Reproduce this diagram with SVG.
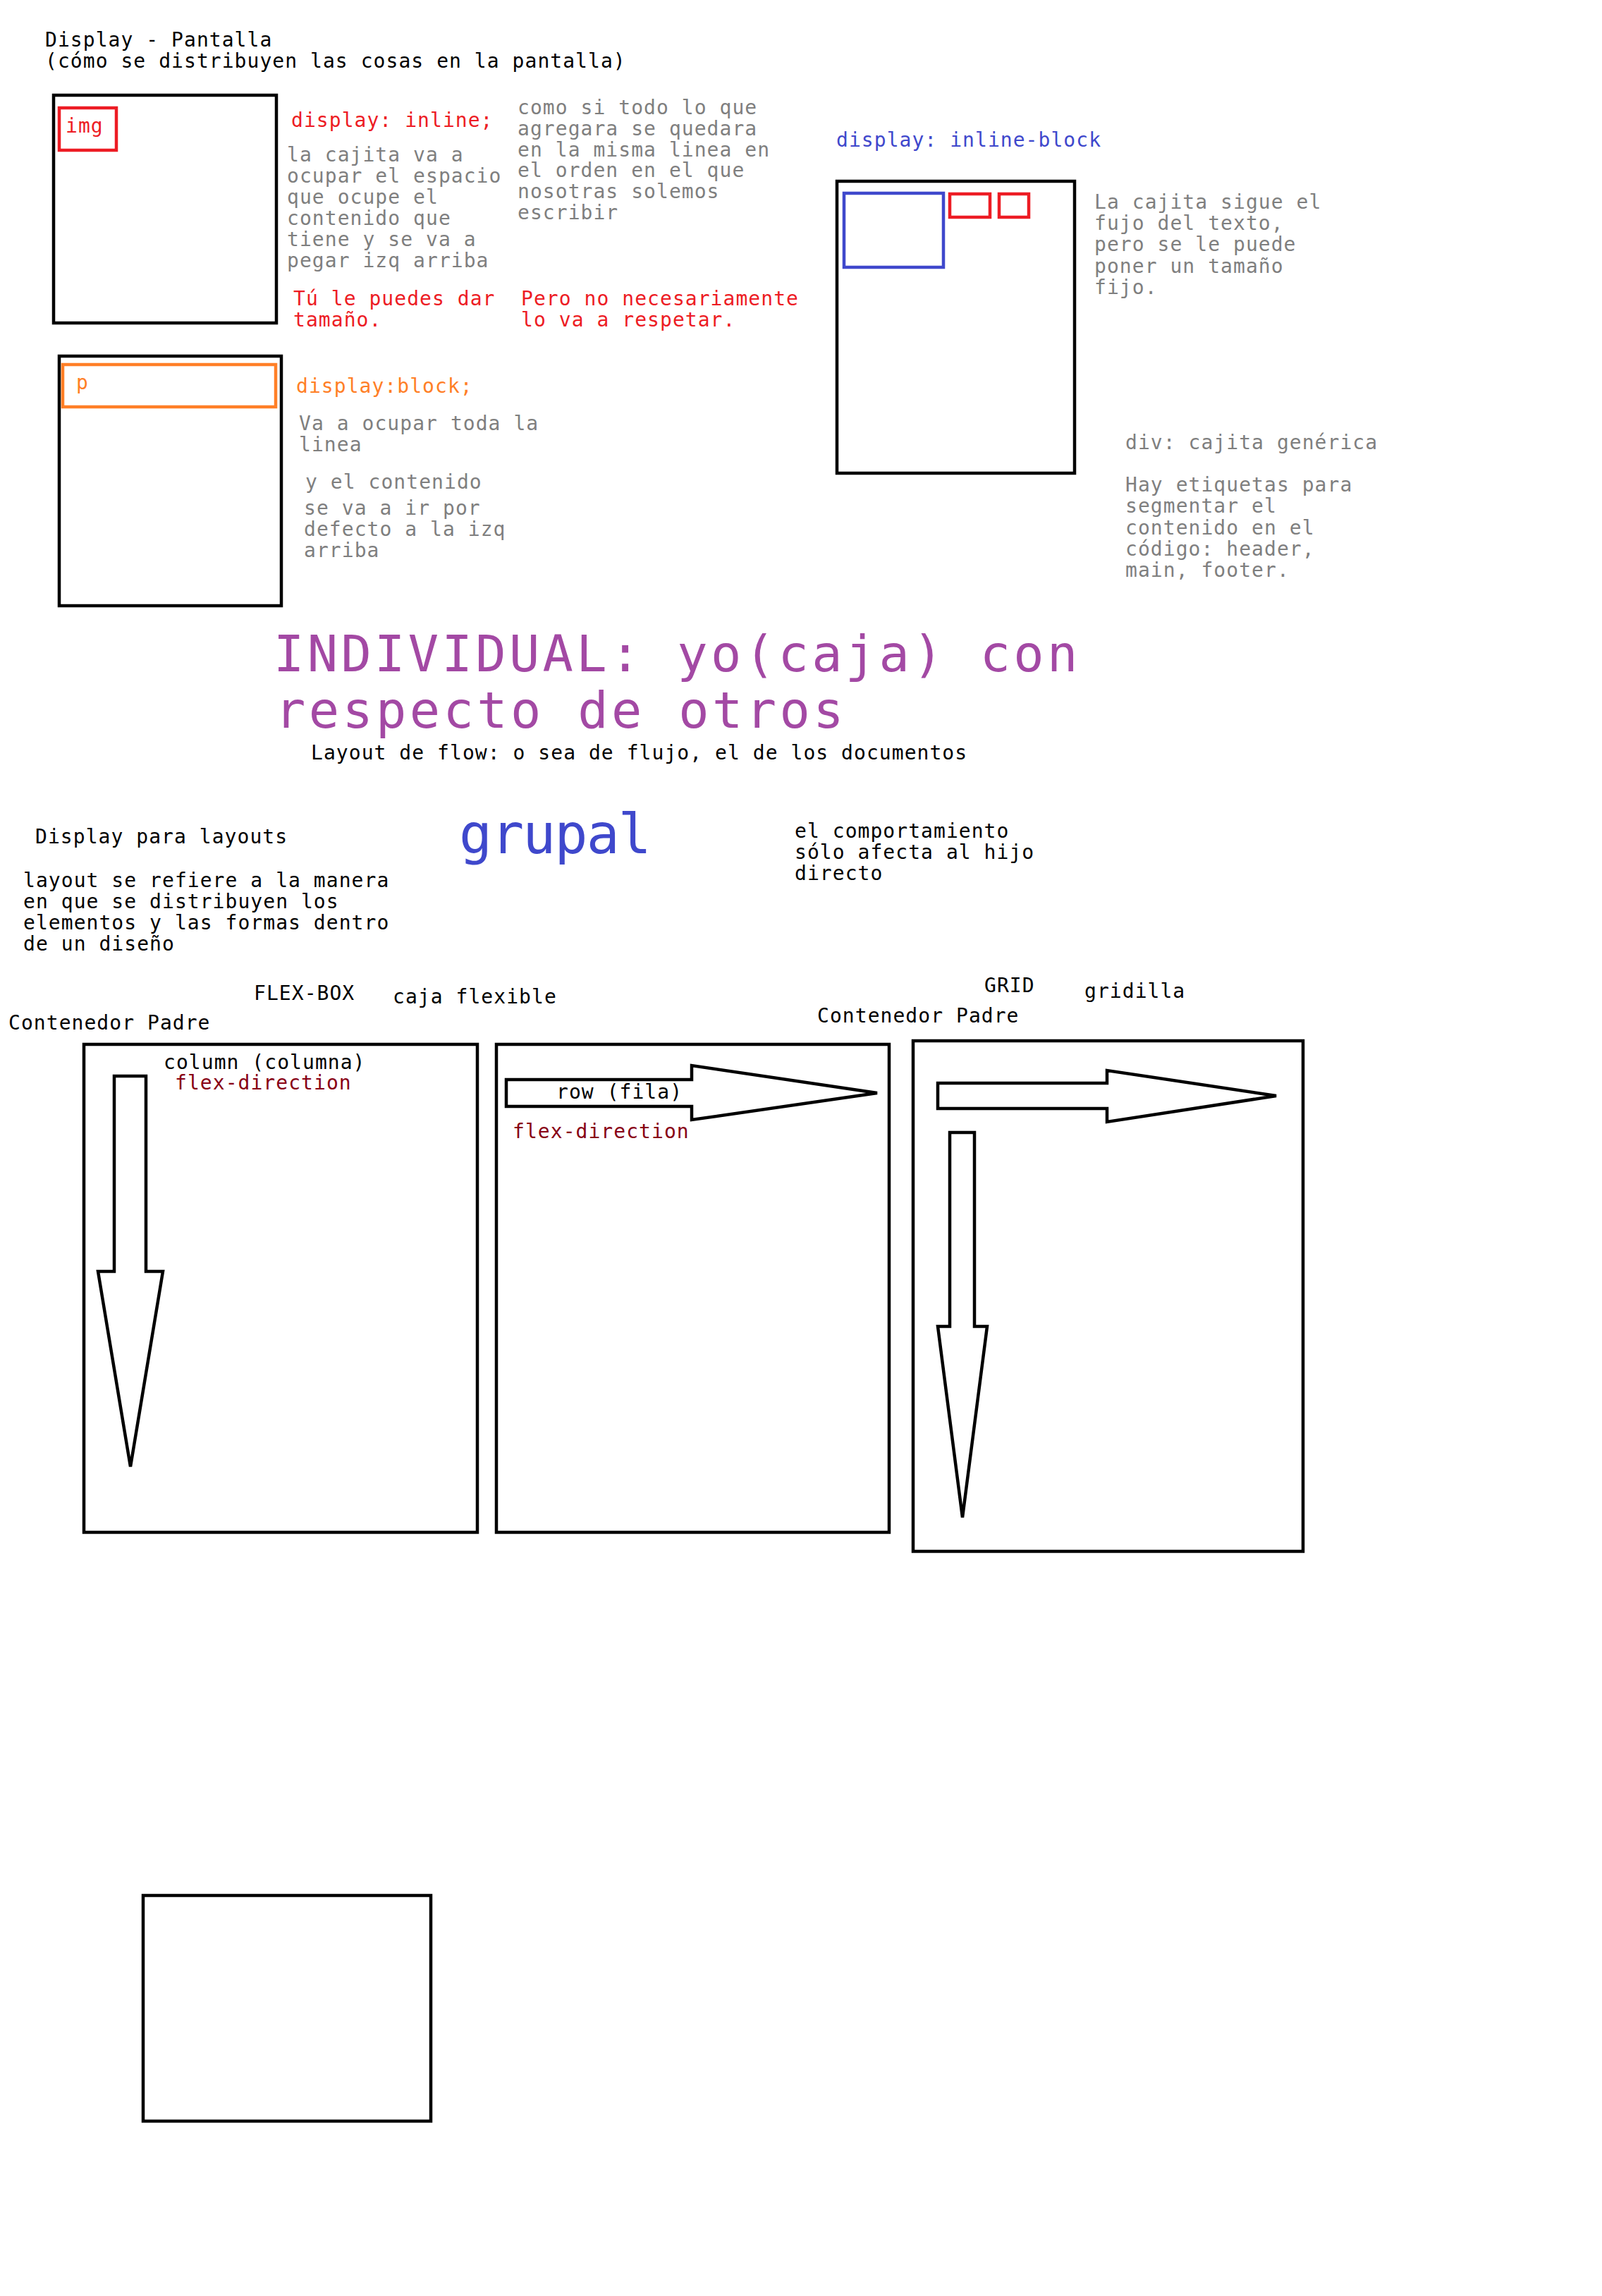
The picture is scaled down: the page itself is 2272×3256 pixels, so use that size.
<svg xmlns="http://www.w3.org/2000/svg" width="2272" height="3256" viewBox="0 0 2272 3256">
<style>
text{font-family:"DejaVu Sans Mono","Liberation Mono",monospace;font-size:28px;letter-spacing:1.05px;fill:#000}
.g{fill:#7f7f7f}
.r{fill:#ed1c24}
.o{fill:#ff7f27}
.b{fill:#3f48cc}
.dr{fill:#880015}
.h{fill:#a349a4;font-size:72px;letter-spacing:4.35px}
.gp{fill:#3f48cc;font-size:78px;letter-spacing:-1.8px}
.box{fill:none;stroke:#000;stroke-width:4.5}
.rb{fill:none;stroke:#ed1c24;stroke-width:4.5}
.ob{fill:none;stroke:#ff7f27;stroke-width:4.5}
.bb{fill:none;stroke:#3f48cc;stroke-width:4.5}
.ar{fill:#fff;stroke:#000;stroke-width:4.5;stroke-linejoin:miter}
</style>
<rect width="2272" height="3256" fill="#fff"/>

<g id="arrows">
<polygon class="ar" points="162,1526 207,1526 207,1803 231,1803 185,2080 139,1803 162,1803"/>
<polygon class="ar" points="718,1531 981,1531 981,1511 1244,1550 981,1588 981,1569 718,1569"/>
<polygon class="ar" points="1330,1536 1570,1536 1570,1518 1810,1554 1570,1591 1570,1572 1330,1572"/>
<polygon class="ar" points="1347,1606 1382,1606 1382,1881 1400,1881 1365,2152 1330,1881 1347,1881"/>
</g>

<g id="title">
<text x="64" y="66">Display - Pantalla</text>
<text x="64" y="96">(cómo se distribuyen las cosas en la pantalla)</text>
</g>

<g id="inline-box">
<rect class="box" x="76" y="135" width="316" height="323"/>
<rect class="rb" x="84" y="153" width="81" height="60"/>
<text class="r" x="93" y="188">img</text>
</g>
<g id="inline-text">
<text class="r" x="413" y="180">display: inline;</text>
<text class="g" x="407" y="229">la cajita va a</text>
<text class="g" x="407" y="259">ocupar el espacio</text>
<text class="g" x="407" y="289">que ocupe el</text>
<text class="g" x="407" y="319">contenido que</text>
<text class="g" x="407" y="349">tiene y se va a</text>
<text class="g" x="407" y="379">pegar izq arriba</text>
<text class="g" x="734" y="162">como si todo lo que</text>
<text class="g" x="734" y="192">agregara se quedara</text>
<text class="g" x="734" y="222">en la misma linea en</text>
<text class="g" x="734" y="251">el orden en el que</text>
<text class="g" x="734" y="281">nosotras solemos</text>
<text class="g" x="734" y="311">escribir</text>
<text class="r" x="416" y="433">Tú le puedes dar</text>
<text class="r" x="416" y="463">tamaño.</text>
<text class="r" x="739" y="433">Pero no necesariamente</text>
<text class="r" x="739" y="463">lo va a respetar.</text>
</g>

<g id="block-box">
<rect class="box" x="84" y="505" width="315" height="354"/>
<rect class="ob" x="89" y="517" width="302" height="60"/>
<text class="o" x="108" y="552">p</text>
</g>
<g id="block-text">
<text class="o" x="420" y="557">display:block;</text>
<text class="g" x="424" y="610">Va a ocupar toda la</text>
<text class="g" x="424" y="640">linea</text>
<text class="g" x="433" y="693">y el contenido</text>
<text class="g" x="431" y="730">se va a ir por</text>
<text class="g" x="431" y="760">defecto a la izq</text>
<text class="g" x="431" y="790">arriba</text>
</g>

<g id="inline-block-box">
<text class="b" x="1186" y="208">display: inline-block</text>
<rect class="box" x="1187" y="257" width="337" height="414"/>
<rect class="bb" x="1197" y="274" width="141" height="105"/>
<rect class="rb" x="1347" y="275" width="57" height="33"/>
<rect class="rb" x="1417" y="275" width="42" height="33"/>
</g>
<g id="inline-block-text">
<text class="g" x="1552" y="296">La cajita sigue el</text>
<text class="g" x="1552" y="326">fujo del texto,</text>
<text class="g" x="1552" y="356">pero se le puede</text>
<text class="g" x="1552" y="387">poner un tamaño</text>
<text class="g" x="1552" y="417">fijo.</text>
</g>
<g id="div-text">
<text class="g" x="1596" y="637">div: cajita genérica</text>
<text class="g" x="1596" y="697">Hay etiquetas para</text>
<text class="g" x="1596" y="727">segmentar el</text>
<text class="g" x="1596" y="758">contenido en el</text>
<text class="g" x="1596" y="788">código: header,</text>
<text class="g" x="1596" y="818">main, footer.</text>
</g>

<g id="individual">
<text class="h" x="388" y="952">INDIVIDUAL: yo(caja) con</text>
<text class="h" x="390" y="1032">respecto de otros</text>
<text x="441" y="1077">Layout de flow: o sea de flujo, el de los documentos</text>
</g>

<g id="layouts">
<text x="50" y="1196">Display para layouts</text>
<text x="33" y="1258">layout se refiere a la manera</text>
<text x="33" y="1288">en que se distribuyen los</text>
<text x="33" y="1318">elementos y las formas dentro</text>
<text x="33" y="1348">de un diseño</text>
<text class="gp" x="651" y="1210">grupal</text>
<text x="1127" y="1188">el comportamiento</text>
<text x="1127" y="1218">sólo afecta al hijo</text>
<text x="1127" y="1248">directo</text>
</g>

<g id="flexbox-labels">
<text x="360" y="1418">FLEX-BOX</text>
<text x="557" y="1423">caja flexible</text>
<text x="12" y="1460">Contenedor Padre</text>
</g>

<g id="flex-column">
<rect class="box" x="119" y="1481" width="558" height="692"/>
<text x="232" y="1516">column (columna)</text>
<text class="dr" x="248" y="1545">flex-direction</text>
</g>

<g id="flex-row">
<rect class="box" x="704" y="1481" width="557" height="692"/>
<text x="789" y="1558">row (fila)</text>
<text class="dr" x="727" y="1614">flex-direction</text>
</g>

<g id="grid-labels">
<text x="1396" y="1407">GRID</text>
<text x="1538" y="1415">gridilla</text>
<text x="1159" y="1450">Contenedor Padre</text>
</g>

<g id="grid">
<rect class="box" x="1295" y="1476" width="553" height="724"/>
</g>

<g id="bottom-box">
<rect class="box" x="203" y="2688" width="408" height="320"/>
</g>
</svg>
